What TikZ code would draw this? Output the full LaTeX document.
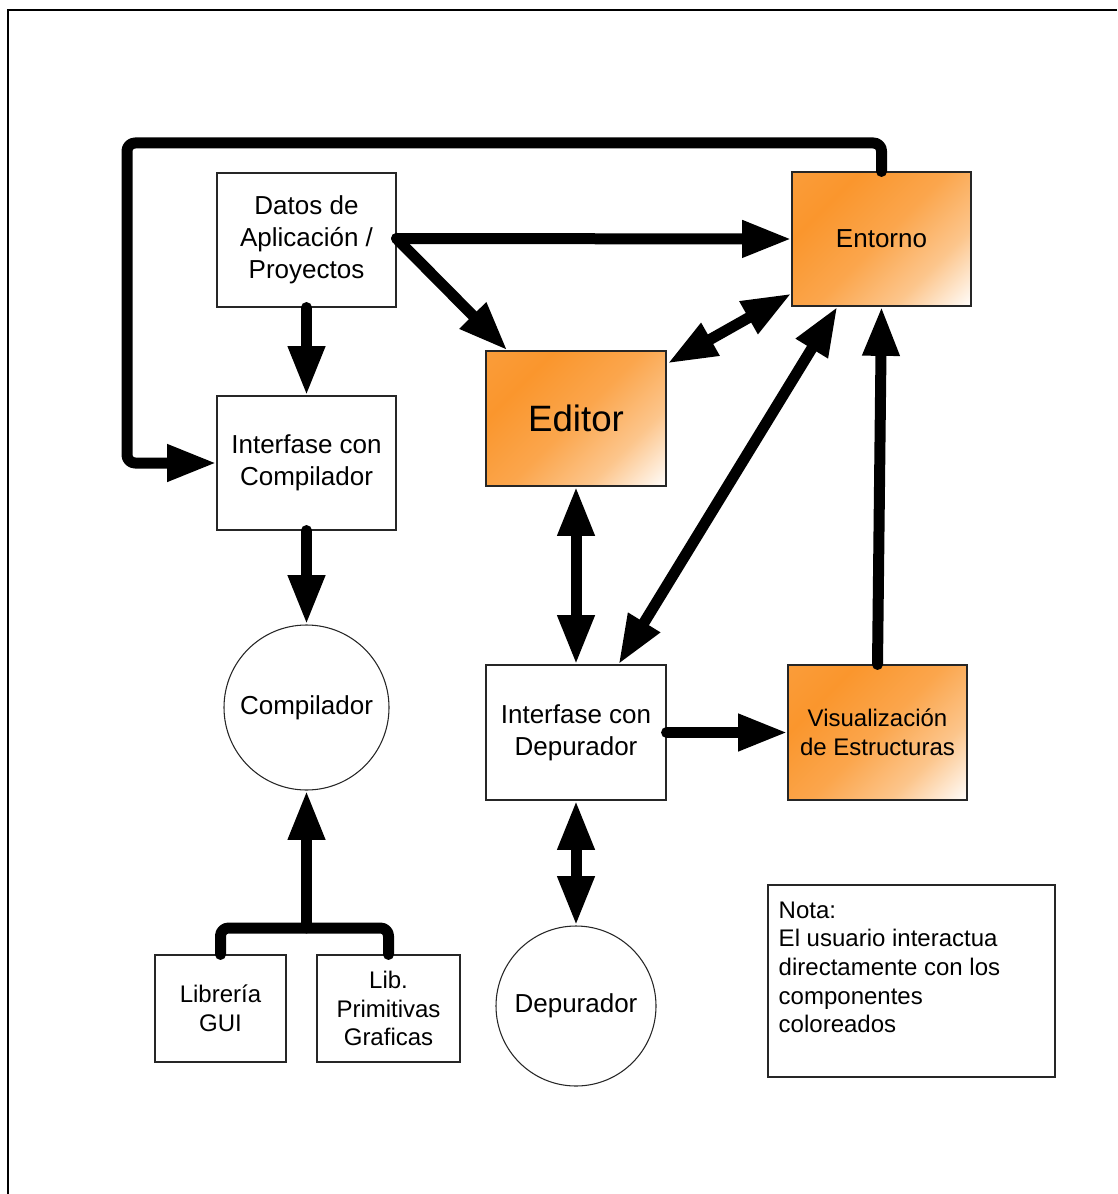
\documentclass[tikz,border=0pt]{standalone}
\usepackage{fontspec}
\setmainfont{Liberation Sans}
\usetikzlibrary{arrows.meta,calc}
\definecolor{myor}{RGB}{250,150,45}
\pgfdeclarehorizontalshading{orfade}{100bp}{color(0bp)=(myor!88!white); color(30bp)=(myor); color(50bp)=(myor!85!white); color(68bp)=(myor!55!white); color(86bp)=(white); color(100bp)=(white)}
\newcommand\fbig{\fontsize{19.5}{24}\selectfont}
\newcommand\fsmall{\fontsize{18}{21.5}\selectfont}
\newcommand\fhuge{\fontsize{27.5}{33}\selectfont}
\begin{document}
\begin{tikzpicture}[x=0.75pt,y=-0.75pt,
  box/.style={draw=black!85, line width=0.8pt, rectangle, inner sep=0pt, align=center, font=\fbig},
  obox/.style={box, shading=orfade, shading angle=-45},
  circ/.style={draw=black!85, line width=0.8pt, circle, inner sep=0pt, font=\fbig},
  conn/.style={line width=8.25pt, line cap=round, line join=round, draw=black},
  tip/.style={-{Triangle[length=37pt,width=26pt]}},
  dtip/.style={{Triangle[length=37pt,width=26pt]}-{Triangle[length=37pt,width=26pt]}},
  ]
\useasboundingbox (0,0) rectangle (1117,1194);
\draw[line width=1.5pt] (1117,10) -- (8,10) -- (8,1194);

% nodes
\node[box, minimum width=134.25pt, minimum height=100.5pt] (dat) at (306.5,240) {Datos de\\Aplicación /\\Proyectos};
\node[obox, minimum width=134.25pt, minimum height=100.5pt] (ent) at (881.5,239) {Entorno};
\node[obox, minimum width=135pt, minimum height=101.25pt, font=\fhuge] (ed) at (576,418.5) {Editor};
\node[box, minimum width=134.25pt, minimum height=100.5pt] (ic) at (306.5,463) {Interfase con\\Compilador};
\node[box, minimum width=135pt, minimum height=101.25pt] (id) at (576,732.5) {Interfase con\\Depurador};
\node[obox, minimum width=134.25pt, minimum height=101.25pt, font=\fsmall] (vis) at (877.5,732.5) {Visualización\\de Estructuras};
\node[circ, minimum size=123.75pt] (comp) at (306.5,707.5) {Compilador};
\node[circ, minimum size=120pt] (dep) at (576,1006) {Depurador};
\node[box, minimum width=98.25pt, minimum height=80.25pt, font=\fsmall] (lg) at (220.5,1008.5) {Librería\\GUI};
\node[box, minimum width=107.25pt, minimum height=80.25pt, font=\fsmall] (lp) at (388.5,1008.5) {Lib.\\Primitivas\\Graficas};
\node[box, minimum width=215.25pt, minimum height=144pt] (nota) at (911.5,981) {};
\node[anchor=north west, align=left, inner sep=0pt, font=\fsmall] (notatext) at ($(nota.north west)+(11,17)$) {Nota:\\El usuario interactua\\directamente con los\\componentes\\coloreados};

% connectors
\coordinate (lpt) at (127,143);
\draw[conn, tip, rounded corners=6pt] (ent.north) |- (lpt) |- (ic.west);
\draw[conn, tip] ($(dat.east)+(0,-1.5)$) -- (ent.west);
\draw[conn, tip] ($(dat.east)+(0,-1.5)$) -- ($(ed.north west)+(22,0)$);
\draw[conn, tip] (dat.south) -- (ic.north);
\draw[conn, tip] (ic.south) -- (comp.north);
\draw[conn, dtip] ($(ed.north east)+(1,13)$) -- ($(ent.south west)+(0,-13)$);
\draw[conn, dtip] ($(id.north west)+(133,0)$) -- ($(ent.south west)+(46,0)$);
\draw[conn, dtip] (ed.south) -- (id.north);
\draw[conn, tip] (id.east) -- (vis.west);
\draw[conn, tip] (vis.north) -- (ent.south);
\draw[conn, dtip] (id.south) -- (dep.north);
\coordinate (j) at (306.5,928);
\draw[conn, rounded corners=6pt] (lg.north) |- (j) -| (lp.north);
\draw[conn, tip] (j) -- (comp.south);
\end{tikzpicture}
\end{document}
